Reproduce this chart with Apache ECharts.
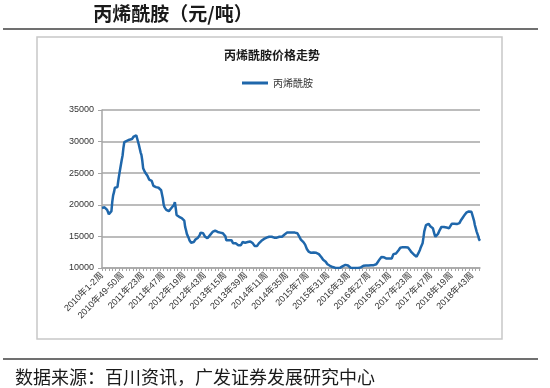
<!DOCTYPE html>
<html><head><meta charset="utf-8">
<script src="https://cdn.jsdelivr.net/npm/echarts@6/dist/echarts.min.js"></script>
<style>html,body{margin:0;padding:0;background:#fff}#c{width:550px;height:388px}</style>
</head><body><div id="c"></div>
<script>
// Categories: 2010 biweekly, 2011-2018 weekly
const years2010Pairs = [1,3,5,7,9,11,13,15,17,19,21,23,25,27,29,31,33,35,37,39,41,43,45,47,49,51];
const weeklyYears = [2011,2012,2013,2014,2015,2016,2017,2018];
const categories = [];
years2010Pairs.forEach(k => categories.push('2010年' + k + '-' + (k + 1) + '周'));
weeklyYears.forEach(y => { for (let w = 1; w <= 52; w++) categories.push(y + '年' + w + '周'); });

const seriesName = '丙烯酰胺';
const priceValues = [
19500,19500,19500,19600,19500,19400,19200,18900,18500,18400,
18600,19000,20500,21500,22000,22700,22900,22900,22800,23800,
24700,25500,26300,27100,27800,29000,29900,30000,30100,30100,
30150,30200,30300,30300,30400,30400,30600,30800,31000,31000,
31000,30900,30700,29500,28900,28300,27900,27000,25800,25500,
25200,25100,25000,24600,24300,24000,23900,23800,23800,23500,
23000,22900,22900,22800,22800,22800,22700,22600,22500,22300,
22000,21000,20000,19600,19400,19200,19100,19000,19000,19100,
19300,19500,19600,19700,20000,20400,19500,18400,18300,18200,
18100,18000,18000,17900,17900,17800,17500,16500,16000,15400,
15200,14800,14400,14100,14000,14000,14000,14100,14300,14500,
14500,14600,14800,15000,15200,15600,15800,15700,15500,15200,
15000,14900,14800,14700,14700,14900,15200,15400,15500,15700,
15800,15900,15900,15800,15700,15700,15600,15600,15600,15600,
15600,15500,15500,15500,15000,14400,14300,14300,14400,14500,
14500,14400,14200,13900,13900,13900,13900,13900,13700,13600,
13500,13500,13600,13800,14100,14200,14100,14000,14000,14000,
14100,14100,14100,14200,14200,14100,13900,13700,13500,13400,
13350,13500,13700,13900,14100,14200,14300,14400,14500,14600,
14700,14750,14800,14850,14900,14950,14950,14950,14950,14900,
14850,14800,14800,14800,14800,14850,14900,14950,14950,14950,
14950,15000,15100,15300,15500,15600,15600,15600,15600,15600,
15600,15600,15600,15600,15600,15600,15600,15550,15500,15300,
15000,14800,14500,14300,14200,14100,13900,13700,13500,13000,
12700,12600,12500,12450,12400,12400,12400,12450,12500,12450,
12400,12350,12300,12200,12100,11900,11700,11500,11300,11200,
11100,11000,10800,10600,10450,10400,10350,10300,10200,10150,
10100,10050,10050,10000,10000,10000,10000,10000,10050,10150,
10250,10300,10400,10450,10500,10550,10500,10400,10250,10150,
10050,10000,10000,10000,10000,10000,10000,10000,10000,10000,
10000,10000,10100,10200,10300,10350,10400,10400,10400,10400,
10400,10400,10400,10450,10450,10450,10450,10450,10450,10500,
10600,10800,11000,11200,11400,11600,11750,11800,11800,11700,
11600,11550,11500,11500,11500,11500,11500,11500,11500,11800,
12200,12300,12300,12300,12350,12500,12800,13000,13200,13300,
13300,13300,13300,13300,13300,13300,13300,13250,13100,12900,
12700,12500,12350,12300,12100,11900,11800,11800,11900,12300,
12600,12900,13300,13600,13900,14800,15800,16300,16800,17100,
17100,17000,16800,16600,16550,16500,16300,15800,15300,14950,
14950,15100,15400,15700,16000,16300,16500,16550,16550,16500,
16500,16450,16400,16350,16300,16300,16300,16600,17000,17200,
17100,17000,16950,16950,16950,17000,17050,17100,17300,17600,
17800,18000,18200,18400,18600,18750,18850,18900,18950,18950,
18950,18900,18800,18600,17500,16800,16300,15800,15400,15000,
14500,14300
];
const yMin = 10000, yMax = 35000, yStep = 5000;

const cjk = '"Noto Sans CJK SC", "Noto Sans", sans-serif';
const chart = echarts.init(document.getElementById('c'), null, {renderer: 'canvas'});
chart.setOption({
  animation: false,
  backgroundColor: '#ffffff',
  graphic: [
    {type: 'text', style: {text: '丙烯酰胺（元/吨）', x: 173, y: 14, textAlign: 'center', textVerticalAlign: 'middle',
      fontSize: 19, fontWeight: 'bold', fontFamily: cjk, fill: '#1a1a1a'}},
    {type: 'line', shape: {x1: 3, y1: 29, x2: 538, y2: 29}, style: {stroke: '#404040', lineWidth: 1.5}},
    {type: 'rect', shape: {x: 37, y: 37, width: 465, height: 302}, style: {fill: 'none', stroke: '#c8c8c8', lineWidth: 1.5}},
    {type: 'text', style: {text: '丙烯酰胺价格走势', x: 272, y: 55, textAlign: 'center', textVerticalAlign: 'middle',
      fontSize: 12, fontWeight: 'bold', fontFamily: cjk, fill: '#1a1a1a'}},
    {type: 'line', shape: {x1: 3, y1: 359, x2: 538, y2: 359}, style: {stroke: '#404040', lineWidth: 1.5}},
    {type: 'text', style: {text: '数据来源：百川资讯，广发证券发展研究中心', x: 15, y: 377, textAlign: 'left', textVerticalAlign: 'middle',
      fontSize: 18, fontFamily: cjk, fill: '#1a1a1a'}}
  ],
  legend: {
    data: [seriesName], left: 237, top: 73, icon: 'rect', itemWidth: 26, itemHeight: 3, itemGap: 4,
    textStyle: {fontSize: 10, fontFamily: cjk, color: '#333'}
  },
  grid: {left: 102, right: 70, top: 110, bottom: 120, containLabel: false},
  xAxis: {
    type: 'category', data: categories, boundaryGap: false,
    axisLine: {lineStyle: {color: '#a6a6a6', width: 1.5}},
    axisTick: {show: true, interval: 3, length: 3, lineStyle: {color: '#a6a6a6'}},
    axisLabel: {interval: 23, rotate: 45, fontSize: 9, color: '#333', margin: 6, fontFamily: 'Liberation Sans, ' + cjk},
    splitLine: {show: false}
  },
  yAxis: {
    type: 'value', min: yMin, max: yMax, interval: yStep,
    axisLine: {show: true, lineStyle: {color: '#a6a6a6', width: 1.5}},
    axisTick: {show: true, length: 4, lineStyle: {color: '#a6a6a6'}},
    axisLabel: {fontSize: 9, color: '#333', margin: 8, fontFamily: 'Liberation Sans, Arial, sans-serif',
      formatter: v => String(v)},
    splitLine: {show: true, lineStyle: {color: '#a6a6a6', width: 1.5}}
  },
  series: [{
    name: seriesName, type: 'line', data: priceValues, showSymbol: false, symbol: 'none',
    lineStyle: {color: '#1f67ab', width: 2.5}, itemStyle: {color: '#1f67ab'}
  }]
});
</script></body></html>
